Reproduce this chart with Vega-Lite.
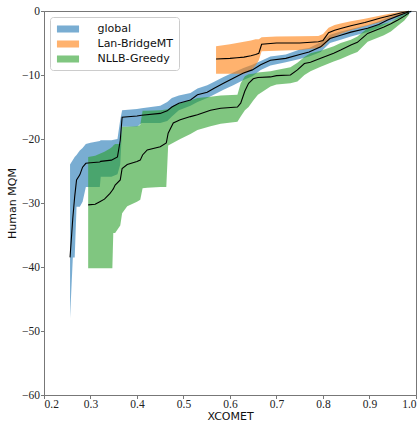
{
  "$schema": "https://vega.github.io/schema/vega-lite/v6.json",
  "width": 372,
  "height": 384,
  "autosize": {"type": "none"},
  "padding": {"left": 44, "top": 11, "right": 3, "bottom": 27},
  "datasets": {
    "bands": [
      {"model": "global", "xcomet": 0.256, "lo": -48, "hi": -24, "mqm": -38.5},
      {"model": "global", "xcomet": 0.262, "lo": -38.5, "hi": -23.3, "mqm": -32.3},
      {"model": "global", "xcomet": 0.266, "lo": -38.5, "hi": -22.8, "mqm": -29},
      {"model": "global", "xcomet": 0.27, "lo": -30.6, "hi": -22.5, "mqm": -26.4},
      {"model": "global", "xcomet": 0.277, "lo": -30.6, "hi": -21.8, "mqm": -25.6},
      {"model": "global", "xcomet": 0.283, "lo": -29.8, "hi": -21.4, "mqm": -24.4},
      {"model": "global", "xcomet": 0.29, "lo": -27.5, "hi": -20.8, "mqm": -23.8},
      {"model": "global", "xcomet": 0.3, "lo": -27.5, "hi": -20.6, "mqm": -23.7},
      {"model": "global", "xcomet": 0.32, "lo": -27.5, "hi": -20.3, "mqm": -23.6},
      {"model": "global", "xcomet": 0.322, "lo": -25.9, "hi": -20.2, "mqm": -23.5},
      {"model": "global", "xcomet": 0.345, "lo": -25.9, "hi": -20.2, "mqm": -23.3},
      {"model": "global", "xcomet": 0.358, "lo": -25.5, "hi": -20.0, "mqm": -22.8},
      {"model": "global", "xcomet": 0.364, "lo": -24, "hi": -17, "mqm": -20.2},
      {"model": "global", "xcomet": 0.368, "lo": -18.1, "hi": -15.5, "mqm": -16.6},
      {"model": "global", "xcomet": 0.4, "lo": -18.1, "hi": -15.3, "mqm": -16.4},
      {"model": "global", "xcomet": 0.41, "lo": -17.5, "hi": -15.2, "mqm": -16.3},
      {"model": "global", "xcomet": 0.45, "lo": -17.5, "hi": -14.8, "mqm": -16.0},
      {"model": "global", "xcomet": 0.465, "lo": -17.2, "hi": -14.2, "mqm": -15.6},
      {"model": "global", "xcomet": 0.475, "lo": -16.5, "hi": -13.6, "mqm": -15.0},
      {"model": "global", "xcomet": 0.49, "lo": -15.5, "hi": -13.2, "mqm": -14.4},
      {"model": "global", "xcomet": 0.515, "lo": -14.8, "hi": -12.8, "mqm": -13.9},
      {"model": "global", "xcomet": 0.53, "lo": -14.2, "hi": -12.1, "mqm": -13.1},
      {"model": "global", "xcomet": 0.551, "lo": -13.6, "hi": -11.6, "mqm": -12.7},
      {"model": "global", "xcomet": 0.565, "lo": -13.1, "hi": -11.1, "mqm": -12.1},
      {"model": "global", "xcomet": 0.586, "lo": -12.3, "hi": -10.3, "mqm": -11.3},
      {"model": "global", "xcomet": 0.607, "lo": -11.6, "hi": -9.6, "mqm": -10.5},
      {"model": "global", "xcomet": 0.629, "lo": -10.8, "hi": -8.9, "mqm": -9.7},
      {"model": "global", "xcomet": 0.648, "lo": -10.2, "hi": -8.4, "mqm": -9.2},
      {"model": "global", "xcomet": 0.666, "lo": -9.2, "hi": -7.8, "mqm": -8.4},
      {"model": "global", "xcomet": 0.687, "lo": -8.5, "hi": -7.1, "mqm": -7.7},
      {"model": "global", "xcomet": 0.72, "lo": -8.0, "hi": -6.8, "mqm": -7.4},
      {"model": "global", "xcomet": 0.75, "lo": -7.5, "hi": -6.0, "mqm": -6.8},
      {"model": "global", "xcomet": 0.77, "lo": -7.1, "hi": -5.8, "mqm": -6.4},
      {"model": "global", "xcomet": 0.795, "lo": -6.4, "hi": -4.9, "mqm": -5.6},
      {"model": "global", "xcomet": 0.815, "lo": -5.0, "hi": -3.7, "mqm": -4.3},
      {"model": "global", "xcomet": 0.838, "lo": -4.5, "hi": -3.2, "mqm": -3.8},
      {"model": "global", "xcomet": 0.86, "lo": -4.0, "hi": -2.8, "mqm": -3.3},
      {"model": "global", "xcomet": 0.896, "lo": -3.3, "hi": -2.2, "mqm": -2.7},
      {"model": "global", "xcomet": 0.92, "lo": -2.6, "hi": -1.6, "mqm": -2.1},
      {"model": "global", "xcomet": 0.939, "lo": -1.9, "hi": -1.0, "mqm": -1.4},
      {"model": "global", "xcomet": 0.96, "lo": -1.2, "hi": -0.5, "mqm": -0.8},
      {"model": "global", "xcomet": 0.982, "lo": -0.5, "hi": 0, "mqm": -0.2},
      {"model": "global", "xcomet": 0.99, "lo": -0.2, "hi": 0, "mqm": -0.05},
      {"model": "Lan-BridgeMT", "xcomet": 0.57, "lo": -9.8, "hi": -5.5, "mqm": -7.5},
      {"model": "Lan-BridgeMT", "xcomet": 0.6, "lo": -9.8, "hi": -5.2, "mqm": -7.4},
      {"model": "Lan-BridgeMT", "xcomet": 0.615, "lo": -9.8, "hi": -5.0, "mqm": -7.3},
      {"model": "Lan-BridgeMT", "xcomet": 0.63, "lo": -9.8, "hi": -4.8, "mqm": -7.2},
      {"model": "Lan-BridgeMT", "xcomet": 0.645, "lo": -9.3, "hi": -4.6, "mqm": -7.0},
      {"model": "Lan-BridgeMT", "xcomet": 0.655, "lo": -8.5, "hi": -4.4, "mqm": -6.8},
      {"model": "Lan-BridgeMT", "xcomet": 0.662, "lo": -7.7, "hi": -4.4, "mqm": -6.6},
      {"model": "Lan-BridgeMT", "xcomet": 0.668, "lo": -6.3, "hi": -4.1, "mqm": -5.2},
      {"model": "Lan-BridgeMT", "xcomet": 0.7, "lo": -6.2, "hi": -4.0, "mqm": -5.0},
      {"model": "Lan-BridgeMT", "xcomet": 0.75, "lo": -6.1, "hi": -3.95, "mqm": -5.0},
      {"model": "Lan-BridgeMT", "xcomet": 0.79, "lo": -5.8, "hi": -3.9, "mqm": -4.8},
      {"model": "Lan-BridgeMT", "xcomet": 0.8, "lo": -5.6, "hi": -3.6, "mqm": -4.6},
      {"model": "Lan-BridgeMT", "xcomet": 0.812, "lo": -4.6, "hi": -2.6, "mqm": -3.4},
      {"model": "Lan-BridgeMT", "xcomet": 0.825, "lo": -4.0, "hi": -2.2, "mqm": -3.0},
      {"model": "Lan-BridgeMT", "xcomet": 0.84, "lo": -3.5, "hi": -1.9, "mqm": -2.7},
      {"model": "Lan-BridgeMT", "xcomet": 0.86, "lo": -3.0, "hi": -1.6, "mqm": -2.3},
      {"model": "Lan-BridgeMT", "xcomet": 0.89, "lo": -2.4, "hi": -1.2, "mqm": -1.8},
      {"model": "Lan-BridgeMT", "xcomet": 0.924, "lo": -1.7, "hi": -0.7, "mqm": -1.1},
      {"model": "Lan-BridgeMT", "xcomet": 0.946, "lo": -1.1, "hi": -0.4, "mqm": -0.7},
      {"model": "Lan-BridgeMT", "xcomet": 0.967, "lo": -0.6, "hi": -0.1, "mqm": -0.3},
      {"model": "Lan-BridgeMT", "xcomet": 0.985, "lo": -0.2, "hi": 0, "mqm": -0.05},
      {"model": "NLLB-Greedy", "xcomet": 0.295, "lo": -40.2, "hi": -22.8, "mqm": -30.3},
      {"model": "NLLB-Greedy", "xcomet": 0.31, "lo": -40.2, "hi": -22.6, "mqm": -30.2},
      {"model": "NLLB-Greedy", "xcomet": 0.32, "lo": -40.2, "hi": -22.3, "mqm": -29.8},
      {"model": "NLLB-Greedy", "xcomet": 0.33, "lo": -40.2, "hi": -22.0, "mqm": -29.4},
      {"model": "NLLB-Greedy", "xcomet": 0.342, "lo": -40.2, "hi": -21.5, "mqm": -28.5},
      {"model": "NLLB-Greedy", "xcomet": 0.347, "lo": -40.2, "hi": -21.2, "mqm": -28.0},
      {"model": "NLLB-Greedy", "xcomet": 0.349, "lo": -34.7, "hi": -21.0, "mqm": -27.8},
      {"model": "NLLB-Greedy", "xcomet": 0.353, "lo": -34.7, "hi": -20.8, "mqm": -27.2},
      {"model": "NLLB-Greedy", "xcomet": 0.364, "lo": -33.5, "hi": -20.8, "mqm": -26.4},
      {"model": "NLLB-Greedy", "xcomet": 0.368, "lo": -31.6, "hi": -18.1, "mqm": -24.6},
      {"model": "NLLB-Greedy", "xcomet": 0.379, "lo": -30.5, "hi": -18.1, "mqm": -24.0},
      {"model": "NLLB-Greedy", "xcomet": 0.4, "lo": -29.8, "hi": -18.0, "mqm": -23.5},
      {"model": "NLLB-Greedy", "xcomet": 0.407, "lo": -29.5, "hi": -17.8, "mqm": -23.3},
      {"model": "NLLB-Greedy", "xcomet": 0.412, "lo": -27.7, "hi": -15.6, "mqm": -22.5},
      {"model": "NLLB-Greedy", "xcomet": 0.422, "lo": -27.6, "hi": -15.6, "mqm": -21.7},
      {"model": "NLLB-Greedy", "xcomet": 0.45, "lo": -27.5, "hi": -15.5, "mqm": -21.2},
      {"model": "NLLB-Greedy", "xcomet": 0.463, "lo": -27.5, "hi": -15.4, "mqm": -20.6},
      {"model": "NLLB-Greedy", "xcomet": 0.467, "lo": -21.0, "hi": -15.3, "mqm": -19.1},
      {"model": "NLLB-Greedy", "xcomet": 0.478, "lo": -20.6, "hi": -14.8, "mqm": -17.5},
      {"model": "NLLB-Greedy", "xcomet": 0.493, "lo": -20.0, "hi": -14.4, "mqm": -17.0},
      {"model": "NLLB-Greedy", "xcomet": 0.515, "lo": -19.2, "hi": -14.0, "mqm": -16.5},
      {"model": "NLLB-Greedy", "xcomet": 0.53, "lo": -18.6, "hi": -13.6, "mqm": -16.2},
      {"model": "NLLB-Greedy", "xcomet": 0.558, "lo": -18.0, "hi": -13.4, "mqm": -15.5},
      {"model": "NLLB-Greedy", "xcomet": 0.58, "lo": -17.6, "hi": -13.2, "mqm": -15.2},
      {"model": "NLLB-Greedy", "xcomet": 0.616, "lo": -17.3, "hi": -13.1, "mqm": -15.0},
      {"model": "NLLB-Greedy", "xcomet": 0.623, "lo": -16.5, "hi": -11.3, "mqm": -14.4},
      {"model": "NLLB-Greedy", "xcomet": 0.632, "lo": -15.5, "hi": -10.2, "mqm": -12.5},
      {"model": "NLLB-Greedy", "xcomet": 0.64, "lo": -15.0, "hi": -9.9, "mqm": -11.3},
      {"model": "NLLB-Greedy", "xcomet": 0.65, "lo": -14.0, "hi": -9.8, "mqm": -10.6},
      {"model": "NLLB-Greedy", "xcomet": 0.66, "lo": -13.1, "hi": -9.6, "mqm": -10.4},
      {"model": "NLLB-Greedy", "xcomet": 0.687, "lo": -11.8, "hi": -9.4, "mqm": -10.3},
      {"model": "NLLB-Greedy", "xcomet": 0.7, "lo": -11.5, "hi": -9.2, "mqm": -10.1},
      {"model": "NLLB-Greedy", "xcomet": 0.73, "lo": -11.3, "hi": -8.8, "mqm": -10.0},
      {"model": "NLLB-Greedy", "xcomet": 0.745, "lo": -11.0, "hi": -8.1, "mqm": -9.2},
      {"model": "NLLB-Greedy", "xcomet": 0.76, "lo": -10.0, "hi": -7.2, "mqm": -8.2},
      {"model": "NLLB-Greedy", "xcomet": 0.773, "lo": -9.4, "hi": -6.6, "mqm": -8.0},
      {"model": "NLLB-Greedy", "xcomet": 0.795, "lo": -8.7, "hi": -6.2, "mqm": -7.4},
      {"model": "NLLB-Greedy", "xcomet": 0.823, "lo": -7.9, "hi": -5.5, "mqm": -6.6},
      {"model": "NLLB-Greedy", "xcomet": 0.838, "lo": -7.5, "hi": -5.0, "mqm": -6.1},
      {"model": "NLLB-Greedy", "xcomet": 0.86, "lo": -6.8, "hi": -4.5, "mqm": -5.3},
      {"model": "NLLB-Greedy", "xcomet": 0.874, "lo": -6.4, "hi": -4.0, "mqm": -4.9},
      {"model": "NLLB-Greedy", "xcomet": 0.896, "lo": -4.8, "hi": -2.7, "mqm": -3.5},
      {"model": "NLLB-Greedy", "xcomet": 0.931, "lo": -3.8, "hi": -2.0, "mqm": -2.5},
      {"model": "NLLB-Greedy", "xcomet": 0.946, "lo": -3.2, "hi": -1.7, "mqm": -2.0},
      {"model": "NLLB-Greedy", "xcomet": 0.961, "lo": -2.3, "hi": -1.0, "mqm": -1.4},
      {"model": "NLLB-Greedy", "xcomet": 0.975, "lo": -1.5, "hi": -0.5, "mqm": -0.8},
      {"model": "NLLB-Greedy", "xcomet": 0.985, "lo": -0.6, "hi": -0.1, "mqm": -0.3}
    ]
  },
  "data": {"name": "bands"},
  "encoding": {
    "x": {
      "field": "xcomet",
      "type": "quantitative",
      "title": "XCOMET",
      "scale": {"domain": [0.2, 1.0], "nice": false, "zero": false},
      "axis": {"values": [0.2, 0.3, 0.4, 0.5, 0.6, 0.7, 0.8, 0.9, 1.0], "format": ".1f"}
    }
  },
  "layer": [
    {
      "transform": [{"filter": "datum.model === 'global'"}],
      "mark": {"type": "area", "opacity": 0.6},
      "encoding": {
        "y": {"field": "lo", "type": "quantitative", "title": "Human MQM",
          "scale": {"domain": [-60, 0], "nice": false},
          "axis": {"values": [-60, -50, -40, -30, -20, -10, 0]}},
        "y2": {"field": "hi"},
        "color": {"field": "model", "type": "nominal", "title": null,
          "scale": {"domain": ["global", "Lan-BridgeMT", "NLLB-Greedy"], "range": ["#1f77b4", "#ff7f0e", "#2ca02c"]}}
      }
    },
    {
      "transform": [{"filter": "datum.model === 'Lan-BridgeMT'"}],
      "mark": {"type": "area", "opacity": 0.6},
      "encoding": {
        "y": {"field": "lo", "type": "quantitative"},
        "y2": {"field": "hi"},
        "color": {"field": "model", "type": "nominal"}
      }
    },
    {
      "transform": [{"filter": "datum.model === 'NLLB-Greedy'"}],
      "mark": {"type": "area", "opacity": 0.6},
      "encoding": {
        "y": {"field": "lo", "type": "quantitative"},
        "y2": {"field": "hi"},
        "color": {"field": "model", "type": "nominal"}
      }
    },
    {
      "mark": {"type": "line", "color": "black", "strokeWidth": 1.1},
      "encoding": {
        "y": {"field": "mqm", "type": "quantitative"},
        "detail": {"field": "model"}
      }
    }
  ],
  "config": {
    "view": {"stroke": "#777", "strokeWidth": 1},
    "axis": {
      "grid": false,
      "domainColor": "#777",
      "tickColor": "#777",
      "tickSize": 3.5,
      "labelFont": "Liberation Serif",
      "labelFontSize": 11.5,
      "labelColor": "#222",
      "labelPadding": 1,
      "titleFont": "DejaVu Sans",
      "titleFontSize": 11,
      "titleFontWeight": "normal",
      "titleColor": "#111"
    },
    "axisX": {"labelPadding": 0, "titleY": 24.5, "titleBaseline": "alphabetic"},
    "axisY": {"titlePadding": 4},
    "legend": {
      "orient": "top-left",
      "offset": 6,
      "padding": 5.5,
      "strokeColor": "#cccccc",
      "fillColor": "white",
      "cornerRadius": 3,
      "symbolType": "M-1.7,-0.54H1.7V0.54H-1.7Z",
      "symbolSize": 169,
      "symbolOffset": 6,
      "symbolOpacity": 0.6,
      "symbolStrokeWidth": 0,
      "labelFont": "DejaVu Sans",
      "labelFontSize": 11,
      "labelColor": "#111",
      "labelOffset": 23,
      "rowPadding": 3
    }
  }
}
